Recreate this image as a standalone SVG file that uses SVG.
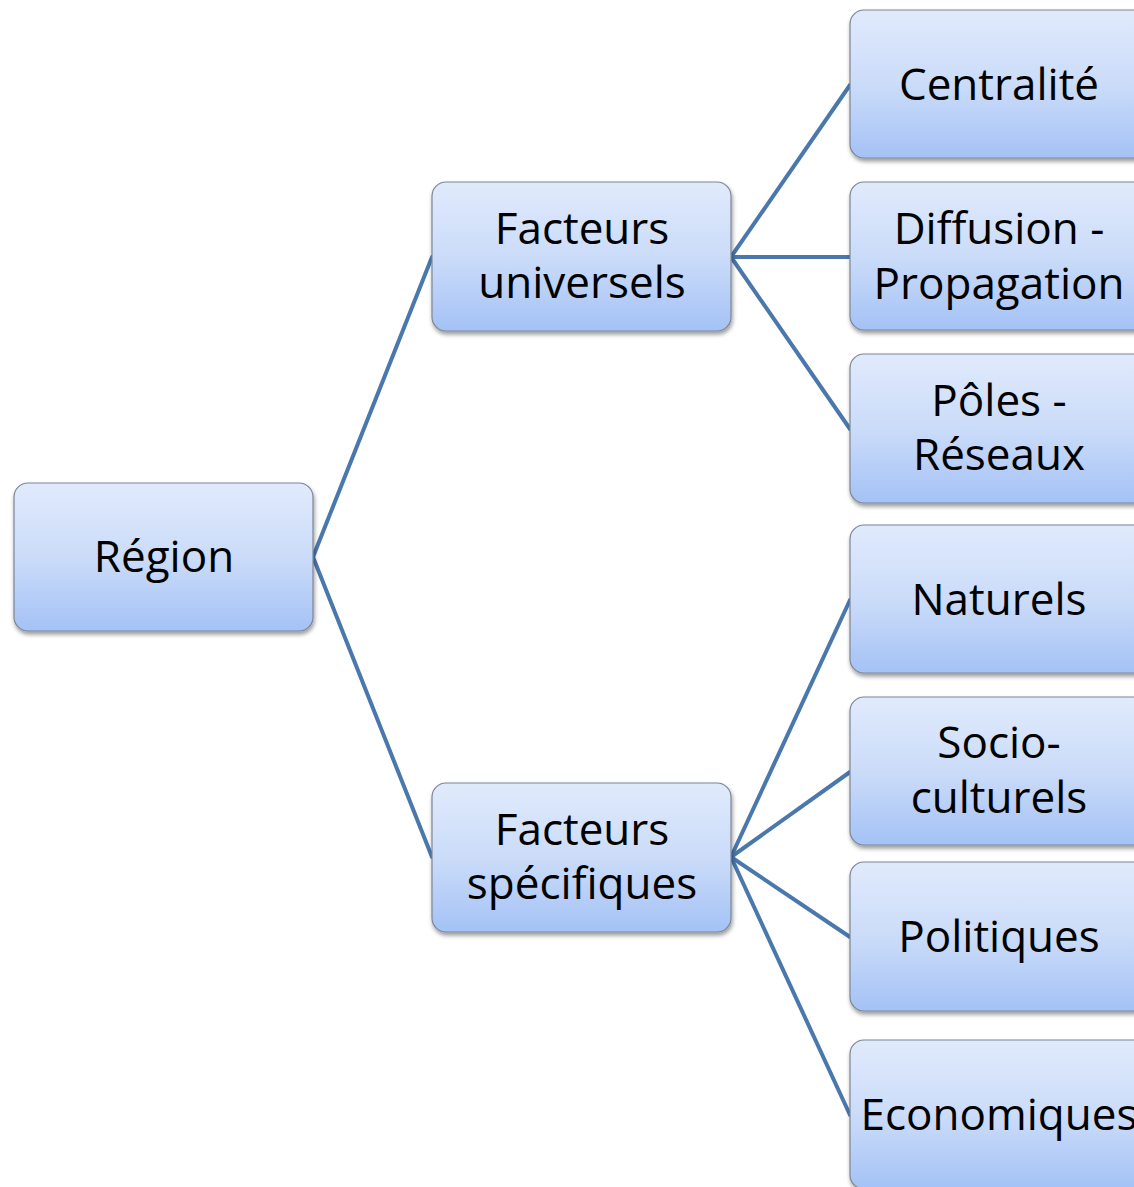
<svg xmlns="http://www.w3.org/2000/svg" width="1134" height="1187" viewBox="0 0 1134 1187">
<defs>
<linearGradient id="g" x1="0" y1="0" x2="0" y2="1">
<stop offset="0" stop-color="#e0eafc"/>
<stop offset="0.5" stop-color="#cbdcf9"/>
<stop offset="1" stop-color="#a4c2f6"/>
</linearGradient>
<filter id="sh" x="-10%" y="-10%" width="125%" height="130%">
<feDropShadow dx="1" dy="3" stdDeviation="2" flood-color="#000" flood-opacity="0.4"/>
</filter>
<style>
.box{fill:url(#g);stroke:#7d8594;stroke-width:1.2;filter:url(#sh)}
.t{font-family:"Open Sans","Liberation Sans",sans-serif;font-size:44px;fill:#000;text-anchor:middle}
.c{stroke:#4a78ad;stroke-width:4;fill:none;stroke-linecap:round}
</style>
</defs>
<g id="connectors">
<line class="c" x1="313" y1="557" x2="432" y2="257"/>
<line class="c" x1="313" y1="557" x2="432" y2="857"/>
<line class="c" x1="731" y1="257" x2="850" y2="85"/>
<line class="c" x1="731" y1="257" x2="850" y2="257"/>
<line class="c" x1="731" y1="257" x2="850" y2="429"/>
<line class="c" x1="731" y1="857" x2="850" y2="600"/>
<line class="c" x1="731" y1="857" x2="850" y2="772"/>
<line class="c" x1="731" y1="857" x2="850" y2="937"/>
<line class="c" x1="731" y1="857" x2="850" y2="1115"/>
</g>
<g id="region"><rect class="box" x="14" y="483" width="299" height="148" rx="14"/><text class="t" x="164" y="572">Région</text></g>
<g id="facteurs-universels"><rect class="box" x="432" y="182" width="299" height="149" rx="14"/><text class="t" x="582" y="244">Facteurs</text><text class="t" x="582" y="298">universels</text></g>
<g id="facteurs-specifiques"><rect class="box" x="432" y="783" width="299" height="149" rx="14"/><text class="t" x="582" y="845">Facteurs</text><text class="t" x="582" y="899">spécifiques</text></g>
<g id="centralite"><rect class="box" x="850" y="10" width="299" height="148" rx="14"/><text class="t" x="999" y="100">Centralité</text></g>
<g id="diffusion"><rect class="box" x="850" y="182" width="299" height="148" rx="14"/><text class="t" x="999" y="244">Diffusion -</text><text class="t" x="999" y="299">Propagation</text></g>
<g id="poles"><rect class="box" x="850" y="354" width="299" height="149" rx="14"/><text class="t" x="999" y="416">Pôles -</text><text class="t" x="999" y="470">Réseaux</text></g>
<g id="naturels"><rect class="box" x="850" y="525" width="299" height="148" rx="14"/><text class="t" x="999" y="615">Naturels</text></g>
<g id="socio"><rect class="box" x="850" y="697" width="299" height="148" rx="14"/><text class="t" x="999" y="758">Socio-</text><text class="t" x="999" y="813">culturels</text></g>
<g id="politiques"><rect class="box" x="850" y="862" width="299" height="149" rx="14"/><text class="t" x="999" y="952">Politiques</text></g>
<g id="economiques"><rect class="box" x="850" y="1040" width="299" height="149" rx="14"/><text class="t" x="999" y="1130">Economiques</text></g>
</svg>
